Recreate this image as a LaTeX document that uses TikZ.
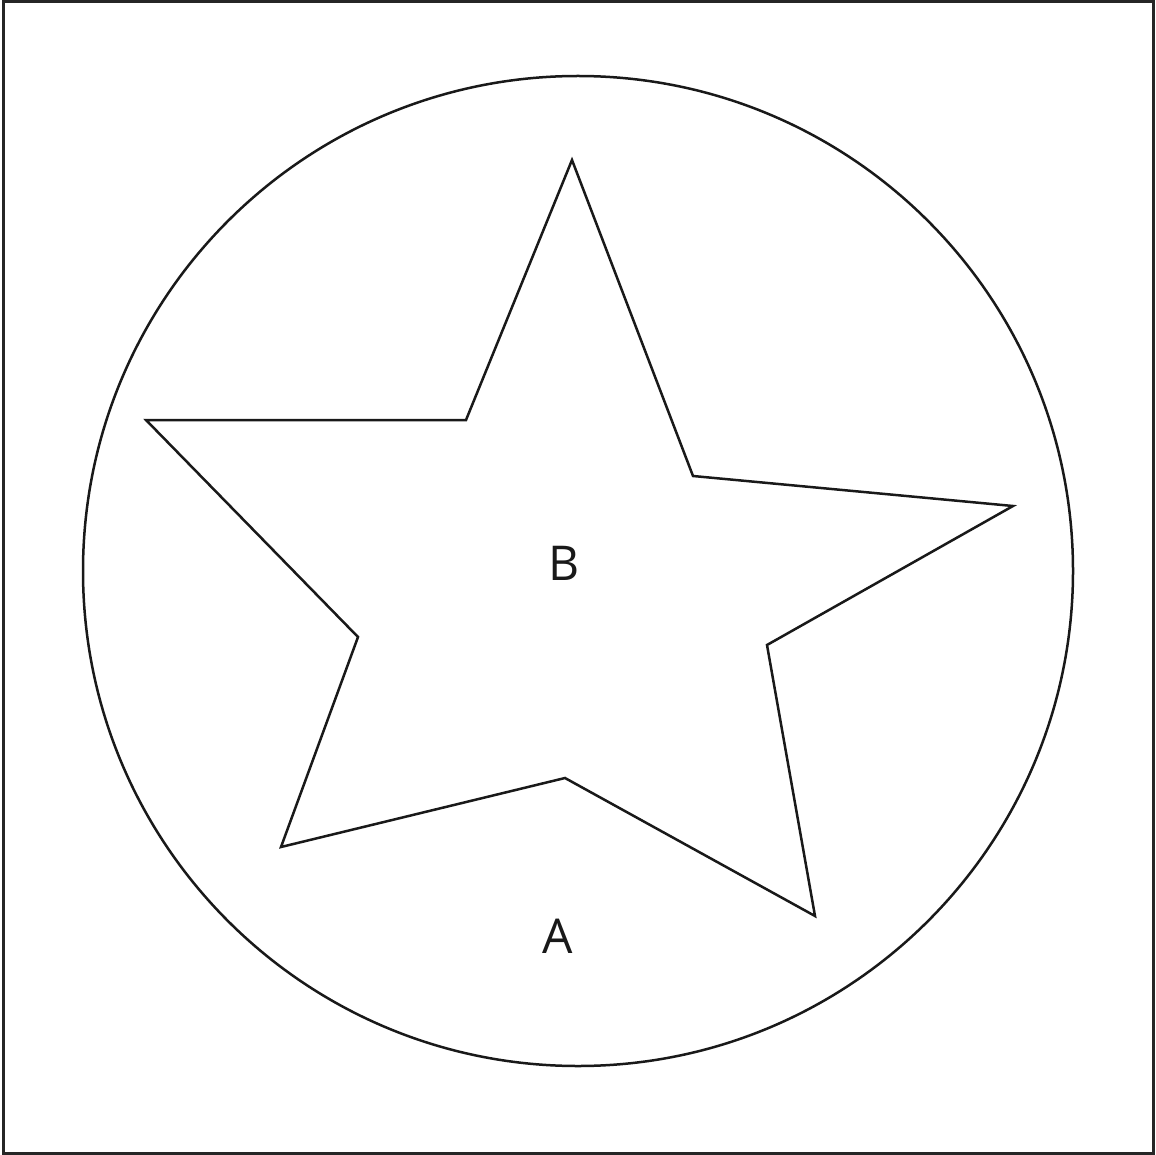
\documentclass[tikz,border=0pt]{standalone}
\usepackage{fontspec}
\setmainfont{Open Sans}
\begin{document}
\begin{tikzpicture}[x=1pt,y=-1pt,
  outline/.style={draw=black!90, line width=2.5pt, line join=miter},
  lab/.style={font=\fontsize{48}{48}\selectfont, text=black!90}]
\useasboundingbox (0,0) rectangle (1156,1155);
\draw[draw=black!85, line width=3pt] (3,2) rectangle (1153,1153);
\node[outline, circle, minimum size=990pt, inner sep=0pt] (circ) at (578,571) {};
\draw[outline] (572,160) coordinate (p1) -- (466,420) coordinate (p2) -- (146,420) coordinate (p3)
  -- (358,637) coordinate (p4) -- (281,847) coordinate (p5) -- (565,778) coordinate (p6)
  -- (815,916) coordinate (p7) -- (767,645) coordinate (p8) -- (1013,506) coordinate (p9)
  -- (693,476) coordinate (p10) -- cycle;
\node[lab] (B) at (564,563) {B};
\node[lab] (A) at (558,936) {A};
\end{tikzpicture}
\end{document}
